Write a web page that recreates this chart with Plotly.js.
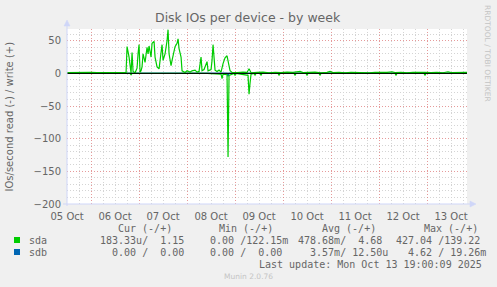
<!DOCTYPE html>
<html>
<head>
<meta charset="utf-8">
<script src="https://cdn.plot.ly/plotly-3.0.1.min.js"></script>
<style>
  html, body { margin: 0; padding: 0; background: #F0F0F0; }
  #chart { width: 497px; height: 287px; }
</style>
</head>
<body>
<div id="chart"></div>
<script>
// Graph window: one week of 30-minute samples, hours counted from 05 Oct 12:00
const windowStart = '2025-10-05 11:58';
const windowEnd = '2025-10-13 20:00';

// Day labels sit at noon, centred on each day
const dayTicks = ['2025-10-05 12:00', '2025-10-06 12:00', '2025-10-07 12:00', '2025-10-08 12:00',
                  '2025-10-09 12:00', '2025-10-10 12:00', '2025-10-11 12:00', '2025-10-12 12:00',
                  '2025-10-13 12:00'];
const dayLabels = ['05 Oct', '06 Oct', '07 Oct', '08 Oct', '09 Oct', '10 Oct', '11 Oct', '12 Oct', '13 Oct'];

// sda writes (+), IOs/second
const sdaWriteHours = [0, 3, 6, 9, 12, 15, 18, 21, 24, 27, 29.5,
  30, 31, 32, 32.5, 33, 34, 35, 35.5, 36, 36.5, 37, 37.5, 38, 39, 40, 40.5, 41, 42, 42.5, 43.5, 44,
  45, 46, 47, 47.5, 48, 49, 50, 50.5, 51, 52, 52.5, 53.5, 54, 55, 55.5, 56, 57, 57.5, 58, 59, 60,
  61.5, 62.5, 64, 65, 66, 67, 67.5, 68.5, 70, 70.5, 72, 72.5, 73, 74, 75, 76, 77, 78, 79, 80, 80.5,
  81.5, 82.5, 85, 88, 90, 91, 92, 95, 98, 101, 104, 107, 110, 113, 115, 116.5, 118, 121, 124, 127,
  130, 131.5, 133, 136, 139, 142, 145, 148, 151, 154, 157, 160, 162.5, 164, 167, 170, 173, 176, 179,
  182, 185, 188, 190.5, 192, 195, 198, 200];
const sdaWrite = [1.2, 1.5, 1.0, 1.3, 1.8, 1.2, 1.0, 1.4, 1.6, 1.2, 1.5,
  41, 25, 0.5, 32, 3, 1, 8, 30, 44, 2, 4, 10, 30, 17, 40, 30, 42, 25, 46, 49, 25,
  10, 7, 32, 44, 20, 30, 50, 67, 30, 12, 20, 35, 41, 46, 53, 38, 25, 4, 3, 1.5, 4,
  2, 4, 5, 2, 3, 25, 4, 6, 18, 4, 6, 20, 44, 5, 3, 5, 2, 15, 24, 27, 18,
  4, 1.5, 1.2, 2, 1.5, 7, 1, 1.5, 2, 1, 1.8, 1.2, 2, 1.5, 3, 3, 1.2, 1.5, 2, 1,
  1.5, 3, 1.2, 1.8, 1, 1.5, 1.2, 1.8, 1, 1.5, 1.2, 1.5, 2.5, 1.2, 1.5, 1, 1.8, 1.2, 1.5,
  1.2, 1.8, 1, 2.5, 1.2, 1.5, 1.2, 1.5];

// sda reads (-), IOs/second
const sdaReadHours = [0, 31.5, 32, 32.5, 70, 77, 77.5, 78, 80, 80.5, 81, 83.5, 84, 84.5,
  90.5, 91, 91.5, 92, 93.5, 94, 94.5, 96.5, 97, 97.5, 105.5, 106, 106.5, 113.5, 114, 114.5,
  119.5, 120, 120.5, 126, 126.5, 127, 164, 164.5, 165, 178.5, 179, 179.5, 200];
const sdaRead = [0, 0, -2, 0, 0, -1, -8, -1, -2, -128, -3, 0, -3, 0,
  -3, -32, -15, -1, 0, -2.5, 0, 0, -2.5, 0, 0, -2.5, 0, 0, -2.5, 0,
  0, -2.5, 0, 0, -2.5, 0, 0, -2.5, 0, 0, -2.5, 0, 0];

// sdb writes (+) and reads (-), IOs/second
const sdbHours = [0, 80, 80.5, 81, 200];
const sdbWrite = [0, 0, 0.02, 0, 0];
const sdbRead = [0, 0, -4.62, 0, 0];

const startMs = Date.UTC(2025, 9, 5, 12, 0, 0);
function stamp(h) {
  return new Date(startMs + h * 3600000).toISOString().slice(0, 19).replace('T', ' ');
}

const GREEN = '#00CC00', BLUE = '#0066B3';
const FONT = 'DejaVu Sans, sans-serif';
const MONO = 'DejaVu Sans Mono, monospace';
const TXT = '#666666';
const AXIS = '#CFD6F8';

function line(hours, vals, color, name) {
  return { type: 'scatter', mode: 'lines', name: name, x: hours.map(stamp), y: vals,
           line: { color: color, width: 1.2 }, hoverinfo: 'skip', showlegend: false };
}

const traces = [
  line(sdbHours, sdbRead, BLUE, 'sdb read'),
  line(sdbHours, sdbWrite, BLUE, 'sdb write'),
  line(sdaReadHours, sdaRead, GREEN, 'sda read'),
  line(sdaWriteHours, sdaWrite, GREEN, 'sda write'),
  // carrier for the day-label axis; draws nothing
  { type: 'scatter', mode: 'markers', x: dayTicks, y: dayTicks.map(() => null),
    xaxis: 'x2', yaxis: 'y', marker: { opacity: 0 }, hoverinfo: 'skip', showlegend: false }
];

// plot box in pixels
const L = 67, R = 467, T = 29, B = 204, W = 497, H = 287;
const px = x => (x - L) / (R - L);
const py = y => (B - y) / (B - T);

function ann(text, x, y, opts) {
  return Object.assign({ text: text, xref: 'paper', yref: 'paper', x: px(x), y: py(y),
    showarrow: false, xanchor: 'left', yanchor: 'middle',
    font: { family: MONO, size: 10, color: TXT } }, opts || {});
}
const nb = s => s.replace(/ /g, '\u00A0');

const annotations = [
  ann('Disk IOs per device - by week', 248, 18, { xanchor: 'center', font: { family: FONT, size: 12.5, color: TXT } }),
  ann('IOs/second read (-) / write (+)', 9, 116.5, { xanchor: 'center', textangle: -90, font: { family: FONT, size: 10, color: TXT } }),
  ann('RRDTOOL / TOBI OETIKER', 488, 53, { xanchor: 'center', textangle: 90, font: { family: FONT, size: 7.5, color: '#C4C4C4' } }),
  ann(nb('Cur (-/+)'), 116, 228), ann(nb('Min (-/+)'), 217, 228),
  ann(nb('Avg (-/+)'), 320, 228), ann(nb('Max (-/+)'), 422, 228),
  ann('sda', 27, 240), ann('sdb', 27, 252),
  ann(nb('183.33u/  1.15'), 98, 240), ann(nb('  0.00 /122.15m'), 196, 240),
  ann(nb('478.68m/  4.68'), 296, 240), ann(nb('427.04 /139.22'), 394, 240),
  ann(nb('  0.00 /  0.00'), 98, 252), ann(nb('  0.00 /  0.00'), 196, 252),
  ann(nb('  3.57m/ 12.50u'), 296, 252), ann(nb('  4.62 / 19.26m'), 394, 252),
  ann(nb('Last update: Mon Oct 13 19:00:09 2025'), 484, 264, { xanchor: 'right' }),
  ann('Munin 2.0.76', 248, 276, { xanchor: 'center', font: { family: FONT, size: 7.5, color: '#C4C4C4' } })
];

const shapes = [
  // zero rule
  { type: 'line', xref: 'paper', yref: 'y', x0: 0, x1: 1, y0: 0, y1: 0, layer: 'above',
    line: { color: '#000000', width: 1 } },
  // axes with arrow heads
  { type: 'line', xref: 'paper', yref: 'paper', x0: px(67), x1: px(67), y0: py(206), y1: py(24),
    line: { color: AXIS, width: 1 } },
  { type: 'line', xref: 'paper', yref: 'paper', x0: px(63), x1: px(471), y0: py(204), y1: py(204),
    line: { color: AXIS, width: 1 } },
  { type: 'path', xref: 'paper', yref: 'paper', fillcolor: AXIS, line: { color: AXIS, width: 0.5 },
    path: `M ${px(64)} ${py(26)} L ${px(70)} ${py(26)} L ${px(67)} ${py(20)} Z` },
  { type: 'path', xref: 'paper', yref: 'paper', fillcolor: AXIS, line: { color: AXIS, width: 0.5 },
    path: `M ${px(470)} ${py(201)} L ${px(470)} ${py(207)} L ${px(476)} ${py(204)} Z` },
  // legend swatches
  { type: 'rect', xref: 'paper', yref: 'paper', x0: px(14), x1: px(20), y0: py(243), y1: py(237),
    fillcolor: GREEN, line: { width: 0 } },
  { type: 'rect', xref: 'paper', yref: 'paper', x0: px(14), x1: px(20), y0: py(255), y1: py(249),
    fillcolor: BLUE, line: { width: 0 } }
];

const layout = {
  width: W, height: H,
  margin: { l: L, r: W - R, t: T, b: H - B, pad: 0 },
  paper_bgcolor: '#F0F0F0', plot_bgcolor: '#FFFFFF',
  showlegend: false,
  xaxis: {
    type: 'date', range: [windowStart, windowEnd], fixedrange: true,
    tick0: '2025-10-06 00:00', dtick: 86400000, showticklabels: false, ticks: '',
    showgrid: true, gridcolor: 'rgba(222,120,120,0.75)', griddash: '1px,2px', gridwidth: 1,
    minor: { dtick: 6 * 3600000, tick0: '2025-10-06 00:00', showgrid: true,
             gridcolor: '#D4D4D4', griddash: '1px,2px', gridwidth: 1 },
    zeroline: false, showline: false
  },
  xaxis2: {
    type: 'date', overlaying: 'x', anchor: 'y', side: 'bottom', range: [windowStart, windowEnd],
    fixedrange: true, tickmode: 'array', tickvals: dayTicks, ticktext: dayLabels,
    showgrid: false, zeroline: false, showline: false, ticks: 'outside', ticklen: 3,
    tickcolor: 'rgba(0,0,0,0)', tickfont: { family: FONT, size: 10, color: TXT }
  },
  yaxis: {
    range: [-200, 68], fixedrange: true, tick0: 0, dtick: 50,
    showgrid: true, gridcolor: 'rgba(222,120,120,0.75)', griddash: '1px,2px', gridwidth: 1,
    minor: { dtick: 10, showgrid: true, gridcolor: '#D4D4D4', griddash: '1px,2px', gridwidth: 1 },
    zeroline: false, showline: false, ticks: 'outside', ticklen: 3, tickcolor: 'rgba(0,0,0,0)',
    tickfont: { family: FONT, size: 10, color: TXT }
  },
  annotations: annotations,
  shapes: shapes
};

Plotly.newPlot('chart', traces, layout, { staticPlot: true, displayModeBar: false });
</script>
</body>
</html>
